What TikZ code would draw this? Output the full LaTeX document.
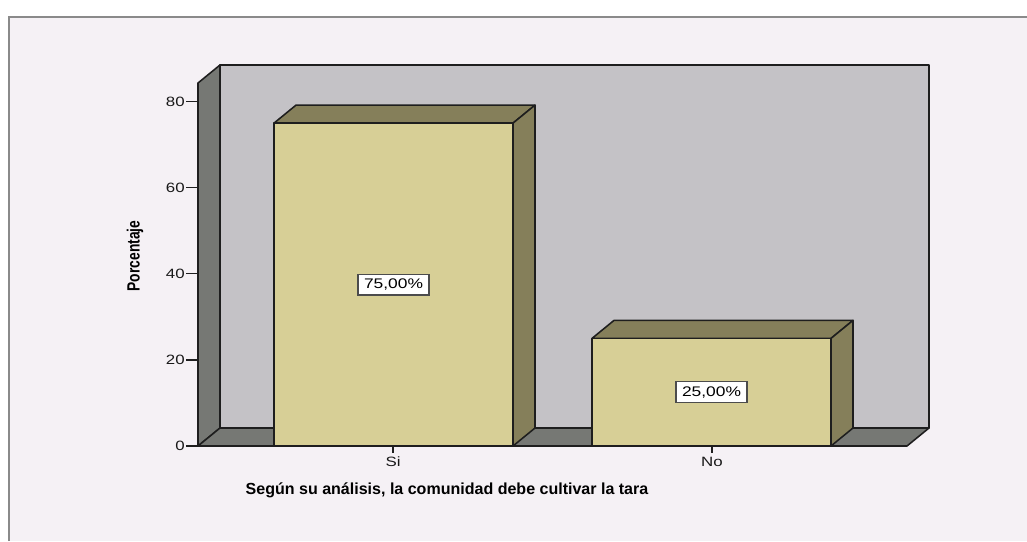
\documentclass[tikz,border=0pt]{standalone}
\usepackage{fontspec}
\setmainfont{Liberation Sans}
\newfontfamily\spssfont[FakeStretch=1.25]{Liberation Sans}
\newfontfamily\narrowfont[FakeStretch=0.78]{Liberation Sans}
\definecolor{pagebg}{HTML}{F5F1F5}
\definecolor{framegray}{HTML}{8A8A8A}
\definecolor{wallback}{HTML}{C4C2C6}
\definecolor{wallside}{HTML}{767874}
\definecolor{barfront}{HTML}{D7CF96}
\definecolor{barshade}{HTML}{857F5A}
\definecolor{edgegray}{HTML}{1E1E1E}
\begin{document}
\begin{tikzpicture}[x=0.25mm,y=-0.25mm]
\tikzstyle{every node}+=[inner sep=0pt]
\tikzstyle{edge}=[draw=edgegray, line width=1.1pt, line join=round]
\tikzstyle{tick}=[edgegray, line width=0.9pt]
\tikzstyle{ticklabel}=[font=\spssfont\fontsize{9.6}{10}\selectfont, text=black!90]
\tikzstyle{pctbox}=[draw=black!70, fill=white, line width=0.8pt, minimum width=17.75mm, minimum height=5.2mm, font=\spssfont\fontsize{9.9}{10}\selectfont]
\useasboundingbox (0,0) rectangle (1027,541);
\fill [white] (0,0) rectangle (1027,541);
\fill [pagebg] (9,17) rectangle (1027,541);
\draw [framegray, line width=1.3pt] (9,541) -- (9,17) -- (1027,17);
% walls and floor
\filldraw [edge, fill=wallback] (220,65) rectangle (929,428);
\filldraw [edge, fill=wallside] (198,83) -- (220,65) -- (220,428) -- (198,446) -- cycle;
\filldraw [edge, fill=wallside] (198,446) -- (220,428) -- (929,428) -- (907,446) -- cycle;
% bars
\foreach \x/\h/\barid/\lab in {274/75/pctSi/{75,00\%}, 592/25/pctNo/{25,00\%}} {
  \pgfmathsetmacro{\bartop}{446-4.305*\h}
  \pgfmathsetmacro{\barmid}{(\bartop+446)/2}
  \filldraw [edge, fill=barshade] (\x,\bartop) -- (\x+22,\bartop-18) -- (\x+261,\bartop-18) -- (\x+239,\bartop) -- cycle;
  \filldraw [edge, fill=barshade] (\x+239,\bartop) -- (\x+261,\bartop-18) -- (\x+261,428) -- (\x+239,446) -- cycle;
  \filldraw [edge, fill=barfront] (\x,\bartop) rectangle (\x+239,446);
  \node [pctbox] (\barid) at (\x+119.5,\barmid) {\lab};
}
% y axis
\foreach \v in {0,20,40,60,80} {
  \draw [tick] (186,446-4.305*\v) -- (198,446-4.305*\v);
  \node [ticklabel, anchor=east] (ytick\v) at (185,446-4.305*\v) {\v};
}
% x axis
\draw [tick] (393,446) -- (393,453);
\draw [tick] (712,446) -- (712,453);
\node [ticklabel] (catSi) at (393,462) {Si};
\node [ticklabel] (catNo) at (712,462) {No};
\node [font=\narrowfont\bfseries\fontsize{12.6}{13}\selectfont, rotate=90] (ytitle) at (135,256) {Porcentaje};
\node [font=\bfseries\fontsize{11.4}{12}\selectfont] (xtitle) at (447,490) {Según su análisis, la comunidad debe cultivar la tara};
\end{tikzpicture}
\end{document}
